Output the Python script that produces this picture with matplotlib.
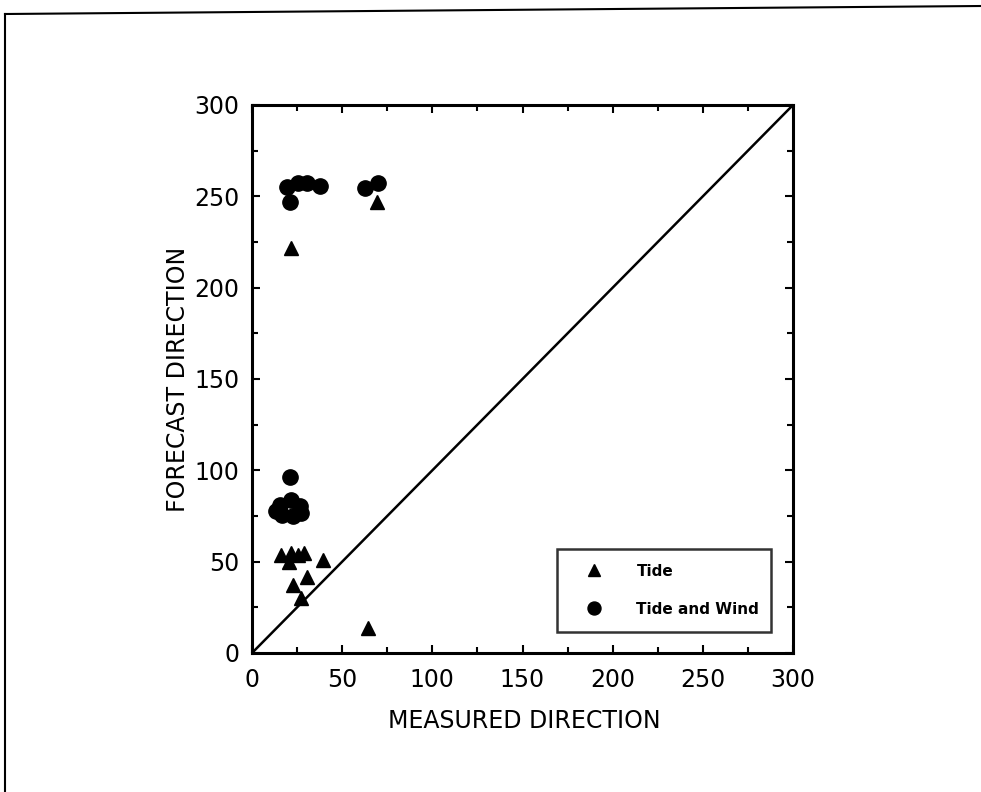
# Forecast vs measured direction scatter

import numpy as np
import matplotlib
matplotlib.use("Agg")
import matplotlib.pyplot as plt
from matplotlib.lines import Line2D

# data
tide_x = [21.5, 69.5, 16.1, 21.6, 25.5, 28.8, 20.5, 39.4, 30.5, 22.7, 27.0, 64.3]
tide_y = [221.6, 247.1, 53.6, 54.7, 53.6, 54.7, 49.8, 51.0, 41.6, 37.0, 30.0, 13.7]

wind_x = [19.2, 25.7, 30.3, 37.7, 21.1, 62.7, 70.0, 21.1, 15.5, 21.6, 26.6, 16.6, 22.7, 27.2, 13.3]
wind_y = [255.3, 257.1, 257.1, 255.8, 247.1, 254.4, 257.1, 96.5, 81.0, 83.8, 80.5, 75.5, 75.0, 76.6, 77.7]

ticks = [0, 50, 100, 150, 200, 250, 300]
tick_labels = ["0", "50", "100", "150", "200", "250", "300"]

W, H = 981, 792
fig = plt.figure(figsize=(W / 100, H / 100), dpi=100)
ax = fig.add_axes([252 / W, 1 - 653 / H, 541 / W, 548 / H])

# 1:1 line
ax.plot([0, 300], [0, 300], color="black", lw=1.8, zorder=1)

ax.plot(tide_x, tide_y, ls="none", marker="^", ms=10, color="black", label="Tide", zorder=3)
ax.plot(wind_x, wind_y, ls="none", marker="o", ms=11, color="black", label="Tide and Wind", zorder=3)

ax.set_xlim(0, 300)
ax.set_ylim(0, 300)
ax.set_xticks(ticks)
ax.set_xticklabels(tick_labels)
ax.set_yticks(ticks)
ax.set_yticklabels(tick_labels)
ax.set_xticks(np.arange(25, 300, 50), minor=True)
ax.set_yticks(np.arange(25, 300, 50), minor=True)

ax.tick_params(which="both", direction="in", top=True, right=True, width=1.5, colors="black")
ax.tick_params(which="major", length=6, labelsize=17)
ax.tick_params(axis="x", which="major", pad=11)
ax.tick_params(axis="y", which="major", pad=9)
ax.tick_params(which="minor", length=4)
for s in ax.spines.values():
    s.set_linewidth(2.2)

fig.text(524 / W, 1 - 721 / H, "MEASURED DIRECTION", fontsize=17, ha="center", va="center")
fig.text(178 / W, 1 - 379 / H, "FORECAST DIRECTION", fontsize=17, rotation=90, ha="center", va="center")

# legend box
x0 = (557 - 252) / 541
y0 = (653 - 632) / 548
leg = ax.legend(loc="lower left", bbox_to_anchor=(x0, y0, (771 - 557) / 541, 0.1), mode="expand",
                borderaxespad=0, frameon=True, fancybox=False, edgecolor="black",
                prop={"size": 11, "weight": "bold"}, borderpad=1.0, handlelength=2.9,
                handletextpad=1.3, labelspacing=1.5, markerscale=0.85)
leg.get_frame().set_linewidth(1.8)

# border of the scanned page
fig.add_artist(Line2D([5 / W, 1], [1 - 14 / H, 1 - 6 / H], color="black", lw=1.5, transform=fig.transFigure))
fig.add_artist(Line2D([5 / W, 5 / W], [0, 1 - 14 / H], color="black", lw=1.5, transform=fig.transFigure))

fig.savefig("out.png", dpi=100)
